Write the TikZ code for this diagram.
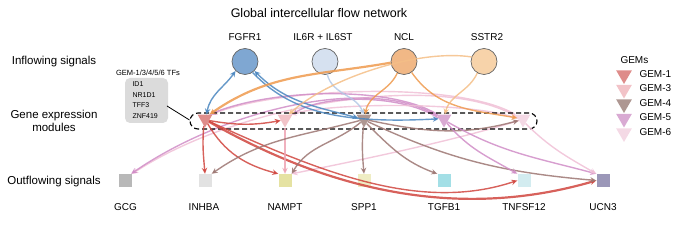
\documentclass[tikz,border=0pt]{standalone}
\usepackage{fontspec}
\setmainfont{Liberation Sans}
\usetikzlibrary{arrows.meta,shapes.geometric}
\definecolor{cFG}{HTML}{7FA7D2}
\definecolor{cIL}{HTML}{D6E1F0}
\definecolor{cNC}{HTML}{F1B886}
\definecolor{cSS}{HTML}{F7D3AA}
\definecolor{lBlue}{HTML}{4A86BF}
\definecolor{lLBlue}{HTML}{B3C8E6}
\definecolor{lOr}{HTML}{EE9A4E}
\definecolor{lLOr}{HTML}{F4BE86}
\definecolor{tG1}{HTML}{DE8C8A}
\definecolor{tG3}{HTML}{F2C3C8}
\definecolor{tG4}{HTML}{AE9792}
\definecolor{tG5}{HTML}{D9AAD3}
\definecolor{tG6}{HTML}{F4D9E5}
\definecolor{lG1}{HTML}{D0453E}
\definecolor{lG3}{HTML}{EDA3B3}
\definecolor{lG4}{HTML}{9C7672}
\definecolor{lG5}{HTML}{D08DC7}
\definecolor{lG6}{HTML}{F0C0D6}
\definecolor{sGCG}{HTML}{B8B8B8}
\definecolor{sINH}{HTML}{E2E2E2}
\definecolor{sNAM}{HTML}{E5E2A2}
\definecolor{sSPP}{HTML}{EFEDC4}
\definecolor{sTGF}{HTML}{A3DFE6}
\definecolor{sTNF}{HTML}{D3ECF0}
\definecolor{sUCN}{HTML}{9B97B8}
\begin{document}
\begin{tikzpicture}[x=1pt,y=1pt,
  sidetxt/.style={font=\fontsize{11.5}{13.5}\selectfont, align=center},
  lab/.style={font=\fontsize{10}{12}\selectfont},
  circ/.style={circle, draw=black!60, line width=0.7pt, minimum size=26pt, inner sep=0pt},
  gem/.style={regular polygon, regular polygon sides=3, shape border rotate=180, minimum size=17pt, inner sep=0pt},
  lgem/.style={regular polygon, regular polygon sides=3, shape border rotate=180, minimum size=18pt, inner sep=0pt},
  sq/.style={minimum size=13pt, inner sep=0pt},
  edge/.style={line width=1.4pt, opacity=0.85, -{Stealth[length=6pt,width=5.5pt]}},
  biedge/.style={line width=1.4pt, opacity=0.85, {Stealth[length=6pt,width=5.5pt]}-{Stealth[length=6pt,width=5.5pt]}},
  tf/.style={font=\fontsize{7}{8}\selectfont, anchor=west}
]
\useasboundingbox (0,0) rectangle (680,227);

% title and side labels
\node[font=\fontsize{12.5}{14}\selectfont] (title) at (319,214) {Global intercellular flow network};
\node[sidetxt] (inlab) at (54,165) {Inflowing signals};
\node[sidetxt] (gemlab) at (54,106) {Gene expression\\modules};
\node[sidetxt] (outlab) at (54,45) {Outflowing signals};

% receptor circles
\node[circ, fill=cFG] (fgfr) at (245,165.5) {};
\node[circ, fill=cIL] (il6) at (325,165.5) {};
\node[circ, fill=cNC] (ncl) at (404,165.5) {};
\node[circ, fill=cSS] (sstr) at (484,165.5) {};
\node[lab] (fgfrL) at (245,190) {FGFR1};
\node[lab] (il6L) at (323,190) {IL6R + IL6ST};
\node[lab] (nclL) at (404,190) {NCL};
\node[lab] (sstrL) at (487,190) {SSTR2};

% GEM triangles
\node[gem, fill=tG1] (g1) at (205,108) {};
\node[gem, fill=tG3] (g3) at (285,108) {};
\node[gem, fill=tG4] (g4) at (364,108) {};
\node[gem, fill=tG5] (g5) at (444,108) {};
\node[gem, fill=tG6] (g6) at (523,108) {};

% outflow squares
\node[sq, fill=sGCG] (gcg) at (125.5,46.5) {};
\node[sq, fill=sINH] (inhba) at (205,46.5) {};
\node[sq, fill=sNAM] (nampt) at (285,46.5) {};
\node[sq, fill=sSPP] (spp1) at (364,46.5) {};
\node[sq, fill=sTGF] (tgfb1) at (444,46.5) {};
\node[sq, fill=sTNF] (tnf) at (524,46.5) {};
\node[sq, fill=sUCN] (ucn3) at (603,46.5) {};
\node[lab] (gcgL) at (125.5,20) {GCG};
\node[lab] (inhbaL) at (204,20) {INHBA};
\node[lab] (namptL) at (285,20) {NAMPT};
\node[lab] (spp1L) at (364,20) {SPP1};
\node[lab] (tgfb1L) at (444,20) {TGFB1};
\node[lab] (tnfL) at (524,20) {TNFSF12};
\node[lab] (ucn3L) at (603,20) {UCN3};

% ---- pink / lilac long arcs (background) ----
\draw[edge, lG6] (g6.160) .. controls (440,156) and (240,124) .. (gcg.north east);
\draw[edge, lG5] (g5.155) .. controls (370,152) and (225,118) .. (gcg.50);
\draw[edge, lG6] (g6.150) .. controls (460,146) and (280,140) .. (g1.35);
\draw[edge, lG5] (g5.145) .. controls (390,142) and (270,138) .. (g1.45);
\draw[edge, lG5] (g5.170) .. controls (400,134) and (320,132) .. (g3.30);
\draw[edge, lG6] (g6.175) .. controls (470,126) and (330,124) .. (g3.40);
\draw[edge, lG6] (g6.200) .. controls (450,85) and (350,65) .. (nampt.north east);

% dashed module box
\node[draw, line width=1.1pt, rounded corners=8pt, minimum width=347pt, minimum height=16pt, inner sep=0pt, dash pattern=on 5pt off 3pt] (mods) at (363.5,106) {};

% TF box
\node[fill=black!14, rounded corners=5pt, minimum width=43pt, minimum height=45pt, inner sep=0pt] (tfbox) at (146.5,126.5) {};
\node[font=\fontsize{7.5}{9}\selectfont] (tftitle) at (148,154) {GEM-1/3/4/5/6 TFs};
\node[tf] (tf1) at (129,143) {ID1};
\node[tf] (tf2) at (129,132) {NR1D1};
\node[tf] (tf3) at (129,121.5) {TFF3};
\node[tf] (tf4) at (129,111) {ZNF419};
\coordinate (tfend) at (189.5,107);
\draw[line width=0.8pt] (167,121) -- (tfend);

% legend
\node[lab, anchor=west] (legT) at (617,167) {GEMs};
\node[lgem, fill=tG1] (lg1) at (624,152) {};
\node[lgem, fill=tG3] (lg3) at (624,137.5) {};
\node[lgem, fill=tG4] (lg4) at (624,123) {};
\node[lgem, fill=tG5] (lg5) at (624,108.5) {};
\node[lgem, fill=tG6] (lg6) at (624,94) {};
\node[lab, anchor=west] (lg1L) at (636,153) {GEM-1};
\node[lab, anchor=west] (lg3L) at (636,138.5) {GEM-3};
\node[lab, anchor=west] (lg4L) at (636,124) {GEM-4};
\node[lab, anchor=west] (lg5L) at (636,109.5) {GEM-5};
\node[lab, anchor=west] (lg6L) at (636,95) {GEM-6};

% ---- inflowing ----
\draw[biedge, lBlue] (fgfr.225) to[out=235, in=80] (g1.70);
\draw[biedge, lBlue] (fgfr.-45) to[out=-45, in=165] (g4.170);
\draw[edge, lBlue] (fgfr.-55) .. controls (290,115) and (340,103) .. (g5.178);
\draw[edge, lLBlue] (il6.-80) to[out=-75, in=110] (g4.95);
\draw[edge, lOr, line width=2.2pt] (ncl.185) to[out=190, in=35] (g1.45);
\draw[edge, lOr] (ncl.-120) to[out=-115, in=80] (g4.75);
\draw[edge, lOr] (ncl.-55) to[out=-55, in=170] (g6.170);
\draw[edge, lLOr] (sstr.-120) to[out=-115, in=75] (g5.80);
\draw[edge, lLOr] (sstr.160) .. controls (420,178) and (330,150) .. (g3.50);

% ---- GEM-1 (red) ----
\draw[edge, lG1] (g1.-100) to[out=-95, in=95] (inhba.north);
\draw[edge, lG1] (g1.-60) to[out=-60, in=165] (nampt.north west);
\draw[edge, lG1] (g1.-20) to[out=-10, in=190] (g3.200);
\draw[edge, lG1, line width=2.2pt] (g1.-35) .. controls (320,42) and (450,4) .. (ucn3.west);
\draw[edge, lG1] (g1.-30) .. controls (320,55) and (420,14) .. (tnf.west);

% ---- GEM-3 ----
\draw[edge, lG3] (g3.-90) -- (nampt.north);

% ---- GEM-4 (brown) ----
\draw[edge, lG4] (g4.200) to[out=195, in=35] (inhba.north east);
\draw[edge, lG4] (g4.225) to[out=220, in=60] (nampt.north east);
\draw[edge, lG4] (g4.-95) to[out=-95, in=95] (spp1.north);
\draw[edge, lG4] (g4.-60) to[out=-45, in=160] (tgfb1.north west);
\draw[edge, lG4] (g4.-35) to[out=-25, in=175] (ucn3.west);
\draw[edge, lG4] (g4.-15) to[out=-12, in=195] (g6.200);

% ---- GEM-5 / GEM-6 outflows ----
\draw[edge, lG5] (g5.-55) to[out=-50, in=150] (tnf.north west);
\draw[edge, lG5] (g5.-40) to[out=-30, in=165] (ucn3.north west);
\draw[edge, lG6] (g6.-60) to[out=-45, in=150] (ucn3.north west);
\end{tikzpicture}
\end{document}
